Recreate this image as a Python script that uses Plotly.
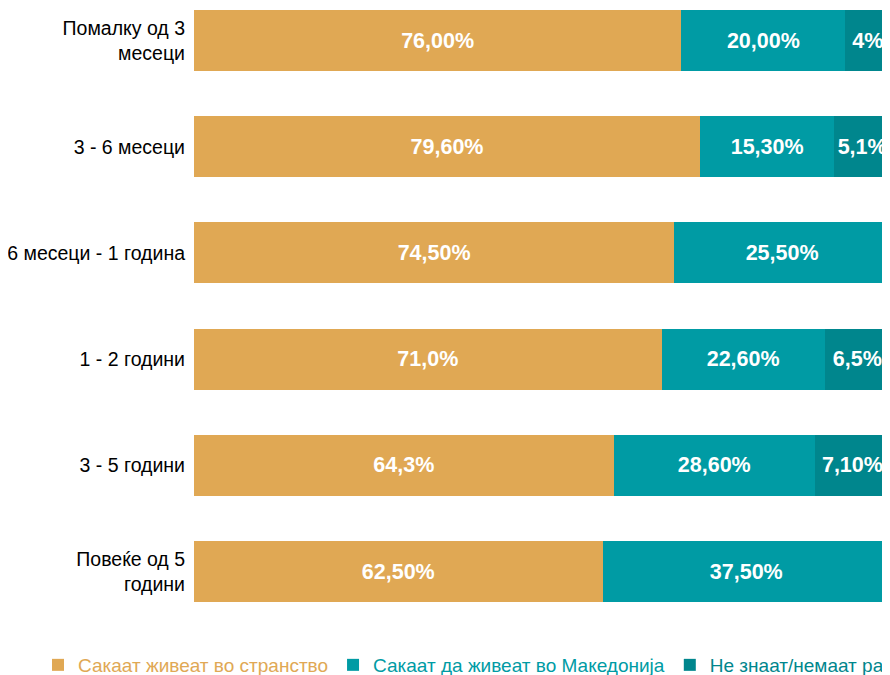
import plotly.graph_objects as go

categories = ["Помалку од 3<br>месеци", "3 - 6 месеци", "6 месеци - 1 година",
              "1 - 2 години", "3 - 5 години", "Повеќе од 5<br>години"]
series_names = ["Сакаат живеат во странство",
                "Сакаат да живеат во Македонија",
                "Не знаат/немаат размислено"]
# bar lengths as drawn (share of the full bar, %)
abroad = [70.0, 72.7, 69.0, 67.2, 60.3, 58.7]
macedonia = [23.6, 19.3, 31.0, 23.4, 28.9, 41.3]
unsure = [6.4, 8.0, None, 9.4, 10.8, None]
# data labels as printed on the bars
abroad_labels = ["76,00%", "79,60%", "74,50%", "71,0%", "64,3%", "62,50%"]
macedonia_labels = ["20,00%", "15,30%", "25,50%", "22,60%", "28,60%", "37,50%"]
unsure_labels = ["4%", "5,1%", "", "6,5%", "7,10%", ""]
colors = ["#E0A854", "#009BA4", "#00868D"]

FONT = "Arial, 'Liberation Sans', sans-serif"
PAGE = 8  # page body margin offset
W, H = 1000, 675
L, R, T, B = 194 - PAGE, 0, 0, 50
visible_right = 890 - PAGE
xmax = 100 * (W - L - R) / (visible_right - L)

plot_h = H - T - B
step = 106.2
first_center = 40.5 - PAGE - T
y_top = -first_center / step
y_bot = (plot_h - first_center) / step

fig = go.Figure()
for name, vals, labels, col in zip(series_names,
                                   [abroad, macedonia, unsure],
                                   [abroad_labels, macedonia_labels, unsure_labels],
                                   colors):
    fig.add_trace(go.Bar(
        y=categories, x=vals, orientation="h",
        name=f'<span style="color:{col}">{name}</span>',
        marker=dict(color=col, line=dict(width=0)),
        text=labels, textposition="inside", insidetextanchor="middle",
        constraintext="none",
        textfont=dict(family=FONT, size=21.5, color="white", weight="bold"),
        width=0.574,
    ))

legend_center = 665 - PAGE
legend_left = 30
fig.update_layout(
    width=W, height=H,
    barmode="stack",
    margin=dict(l=L, r=R, t=T, b=B, autoexpand=False),
    plot_bgcolor="white", paper_bgcolor="white",
    font=dict(family=FONT, color="black"),
    xaxis=dict(range=[0, xmax], visible=False, showgrid=False, zeroline=False),
    yaxis=dict(type="category", range=[y_bot, y_top], showgrid=False,
               zeroline=False, showline=False, ticks="",
               ticklabelstandoff=8,
               tickfont=dict(family=FONT, size=19.5, color="black")),
    showlegend=True,
    legend=dict(orientation="h", x=(legend_left - L) / (W - L - R), xanchor="left",
                y=-(legend_center - T - plot_h) / plot_h, yanchor="middle",
                font=dict(family=FONT, size=19), bgcolor="rgba(0,0,0,0)",
                traceorder="normal"),
)

fig.write_html("out.html")
